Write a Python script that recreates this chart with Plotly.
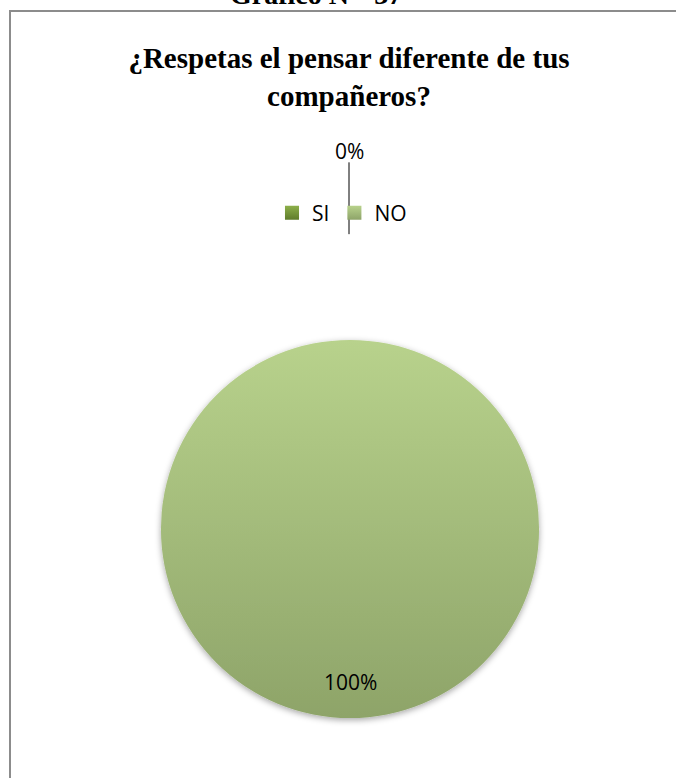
import math
import plotly.graph_objects as go

# ---- data ----
categories = ["SI", "NO"]
values = [0, 100]
colors = ["#76963a", "#a8c281"]
title_text = "¿Respetas el pensar diferente de tus<br>compañeros?"
header_text = "Gráfico N°  37"

# ---- styling (gradient ends per category) ----
grad_top = ["#8db04a", "#b8d28c"]
grad_bottom = ["#5f7c2b", "#8ea469"]

# ---- layout geometry (pixels) ----
W, H = 676, 778
cx, cy, r = 350, 529, 189

def px(x):
    return x / W

def py(y):
    return 1 - y / H

fig = go.Figure(
    go.Pie(
        labels=categories,
        values=values,
        marker=dict(colors=colors, line=dict(width=0)),
        textinfo="none",
        sort=False,
        direction="clockwise",
        rotation=0,
        domain=dict(x=[px(cx - r), px(cx + r)], y=[py(cy + r), py(cy - r)]),
        hoverinfo="label+percent",
    )
)

# percentage labels computed from the data
total = sum(values)
annotations = []
shapes = []
cum = 0.0
label_font = dict(family="Open Sans", size=21, color="#000000")
for cat, v in zip(categories, values):
    frac = v / total
    mid = (cum + frac / 2) * 2 * math.pi
    cum += frac
    pct = f"{round(frac * 100)}%"
    if frac > 0:
        d = 0.81 * r
        lx, ly = cx + d * math.sin(mid), cy - d * math.cos(mid)
        annotations.append(dict(x=px(lx), y=py(ly), xref="paper", yref="paper",
                                text=pct, showarrow=False, font=label_font,
                                xanchor="center", yanchor="middle"))
    else:
        d = 2.0 * r
        lx, ly = cx - 1 + d * math.sin(mid), cy - d * math.cos(mid)
        annotations.append(dict(x=px(lx), y=py(ly), xref="paper", yref="paper",
                                text=pct, showarrow=False, font=label_font,
                                xanchor="center", yanchor="middle"))
        shapes.append(dict(type="line", xref="paper", yref="paper",
                           x0=px(lx), x1=px(lx),
                           y0=py(cy - 1.94 * r), y1=py(cy - 1.56 * r),
                           line=dict(color="#000000", width=1)))

# header text clipped at the top
annotations.append(dict(x=px(316), y=py(12), xref="paper", yref="paper",
                        text="<b>" + header_text + "</b>", showarrow=False,
                        font=dict(family="Liberation Serif", size=28, color="#000000"),
                        xanchor="center", yanchor="bottom"))

# chart border
shapes.append(dict(type="rect", xref="paper", yref="paper",
                   x0=px(10), x1=px(W + 20), y0=py(H + 20), y1=py(11),
                   line=dict(color="#8c8c8c", width=2), fillcolor="rgba(0,0,0,0)",
                   layer="below"))

fig.update_layout(
    width=W,
    height=H,
    margin=dict(l=0, r=0, t=0, b=0),
    paper_bgcolor="#ffffff",
    plot_bgcolor="#ffffff",
    title=dict(text="<b>" + title_text + "</b>", x=px(349), xanchor="center",
               y=py(68), yanchor="top", yref="container",
               font=dict(family="Liberation Serif", size=29, color="#000000")),
    showlegend=True,
    legend=dict(orientation="h", x=px(342), xanchor="center", y=py(213),
                yanchor="middle", font=dict(family="Open Sans", size=21, color="#000000"),
                traceorder="normal", bgcolor="rgba(0,0,0,0)"),
    annotations=annotations,
    shapes=shapes,
)

post_js = """
document.body.style.margin = '0';
try {
  var gd = document.getElementById('{plot_id}');
  var svg = gd.querySelector('svg.main-svg');
  var ns = 'http://www.w3.org/2000/svg';
  var defs = svg.querySelector('defs');
  if (!defs) { defs = document.createElementNS(ns, 'defs'); svg.insertBefore(defs, svg.firstChild); }
  var tops = %s, bots = %s;
  for (var i = 0; i < tops.length; i++) {
    var lg = document.createElementNS(ns, 'linearGradient');
    lg.setAttribute('id', 'pg' + i);
    lg.setAttribute('x1', '0'); lg.setAttribute('y1', '0');
    lg.setAttribute('x2', '0'); lg.setAttribute('y2', '1');
    var s1 = document.createElementNS(ns, 'stop');
    s1.setAttribute('offset', '0'); s1.setAttribute('stop-color', tops[i]);
    var s2 = document.createElementNS(ns, 'stop');
    s2.setAttribute('offset', '1'); s2.setAttribute('stop-color', bots[i]);
    lg.appendChild(s1); lg.appendChild(s2); defs.appendChild(lg);
  }
  var f = document.createElementNS(ns, 'filter');
  f.setAttribute('id', 'pieShadow');
  f.setAttribute('x', '-10%%'); f.setAttribute('y', '-10%%');
  f.setAttribute('width', '120%%'); f.setAttribute('height', '120%%');
  var ds = document.createElementNS(ns, 'feDropShadow');
  ds.setAttribute('dx', '0'); ds.setAttribute('dy', '2');
  ds.setAttribute('stdDeviation', '3');
  ds.setAttribute('flood-color', '#000000'); ds.setAttribute('flood-opacity', '0.35');
  f.appendChild(ds); defs.appendChild(f);
  var slices = gd.querySelectorAll('g.slice');
  slices.forEach(function(g, i) {
    var p = g.querySelector('path.surface');
    if (p) { p.style.fill = 'url(#pg' + i + ')'; p.setAttribute('filter', 'url(#pieShadow)'); }
  });
  var lp = gd.querySelectorAll('g.legend g.traces');
  lp.forEach(function(g, i) {
    var p = g.querySelector('path.legendpie');
    if (p) {
      var t = p.getAttribute('transform') || '';
      p.setAttribute('transform', t + ' scale(1.17)');
      p.style.fill = 'url(#pg' + i + ')';
    }
  });
} catch (e) {}
""" % (str(grad_top), str(grad_bottom))

fig.write_html("out.html", post_script=post_js, config={"displayModeBar": False})
